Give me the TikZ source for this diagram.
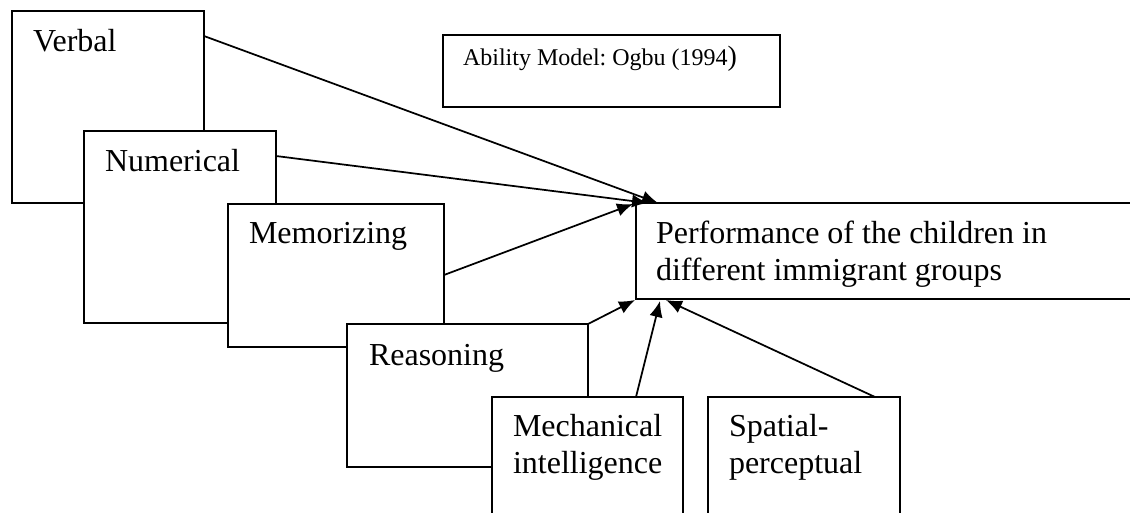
\documentclass[tikz,border=0pt]{standalone}
\usepackage{fontspec}
\setmainfont{Liberation Serif}
\usetikzlibrary{arrows.meta,calc}
\frenchspacing
\begin{document}
\begin{tikzpicture}[x=0.75pt,y=-0.75pt,
  box/.style={draw=black,fill=white,line width=1.5pt,inner sep=0pt,outer sep=0pt,anchor=north west},
  txt/.style={inner sep=0pt,outer sep=0pt,anchor=base west,font=\fontsize{24}{27.75}\selectfont},
  smalltxt/.style={inner sep=0pt,outer sep=0pt,anchor=base west,font=\fontsize{18}{21}\selectfont},
  arr/.style={line width=1.3pt,-{Latex[length=12pt,width=10pt]}}]
\useasboundingbox (0,0) rectangle (1130,512);
\clip (0,0) rectangle (1130,512);
\fill[white] (0,0) rectangle (1130,512);
% boxes
\node[box,minimum width=144pt,minimum height=144pt] (verbal) at (12,11) {};
\node[txt] (verbalT) at (33,51) {Verbal};
\node[box,minimum width=144pt,minimum height=144pt] (num) at (84,131) {};
\node[txt] (numT) at (105,171) {Numerical};
\node[box,minimum width=162pt,minimum height=107.25pt] (mem) at (228,204) {};
\node[txt] (memT) at (249,243) {Memorizing};
\node[box,minimum width=180.75pt,minimum height=107.25pt] (reas) at (347,324) {};
\node[txt] (reasT) at (369,365) {Reasoning};
\node[box,minimum width=143.25pt,minimum height=105pt] (mech) at (492,397) {};
\node[txt] (mechT1) at (513,436) {Mechanical};
\node[txt] (mechT2) at (513,473) {intelligence};
\node[box,minimum width=144pt,minimum height=105pt] (spat) at (708,397) {};
\node[txt] (spatT1) at (729,436) {Spatial-};
\node[txt] (spatT2) at (729,473) {perceptual};
\node[box,minimum width=381.75pt,minimum height=72pt] (perf) at (636,203) {};
\node[txt] (perfT1) at (656,243) {Performance of the children in};
\node[txt] (perfT2) at (656,280) {different immigrant groups};
\node[box,minimum width=252.75pt,minimum height=54pt] (abil) at (443,35) {};
\node[smalltxt] (abilT) at (463,65) {Ability Model: Ogbu (1994{\fontsize{21}{21}\selectfont )}};
% arrows
\draw[arr] ($(verbal.north east)+(0,25)$) -- ($(perf.north west)+(22,0)$);
\draw[arr] ($(num.north east)+(0,25)$) -- ($(perf.north west)+(12,0)$);
\draw[arr] ($(mem.north east)+(0,71)$) -- ($(perf.north west)+(-3,1)$);
\draw[arr] (reas.north east) -- ($(perf.south west)+(-1,1)$);
\draw[arr] ($(mech.north west)+(144,0)$) -- ($(perf.south west)+(24,2)$);
\draw[arr] ($(spat.north west)+(167,0)$) -- ($(perf.south west)+(30,1)$);
\end{tikzpicture}
\end{document}
